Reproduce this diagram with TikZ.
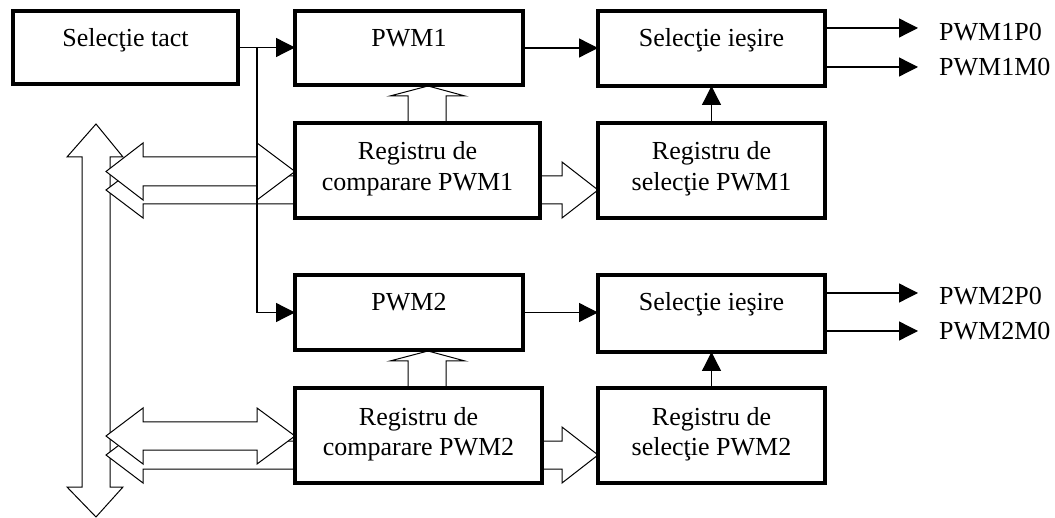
\documentclass[tikz,border=0pt]{standalone}
\usepackage{fontspec}
\setmainfont{Liberation Serif}
\usetikzlibrary{arrows.meta}
\begin{document}
\begin{tikzpicture}[x=1pt,y=-1pt,
  box/.style={draw, line width=3.4pt, fill=white, inner sep=0pt, outer sep=0pt, anchor=north west},
  txt/.style={font=\fontsize{26pt}{31pt}\selectfont, align=center, inner sep=0pt, anchor=base},
  lbl/.style={font=\fontsize{26pt}{31pt}\selectfont, inner sep=0pt, anchor=base west},
  conn/.style={line width=1.3pt, -{Triangle[length=19pt,width=19pt]}},
  block/.style={draw, line width=1pt, fill=white, line join=miter},
]
\useasboundingbox (0,0) rectangle (1055,518);

% data bus (vertical double block arrow)
\draw[block] (96,124) -- (123,157) -- (110,157) -- (110,487) -- (123,487) -- (96,517)
  -- (67,487) -- (82,487) -- (82,157) -- (67,157) -- cycle;

% channel 1: read-back path (behind) and bidirectional write path
\draw[block] (106,190) -- (143,162) -- (143,176) -- (295,176) -- (295,204) -- (143,204) -- (143,218) -- cycle;
\draw[block] (106,171.5) -- (143,143) -- (143,157) -- (257,157) -- (257,143) -- (295,171.5)
  -- (257,200) -- (257,186) -- (143,186) -- (143,200) -- cycle;
% compare register -> selection register
\draw[block] (540,176) -- (562,176) -- (562,162) -- (598,190) -- (562,218) -- (562,204) -- (540,204) -- cycle;
% compare register -> PWM1
\draw[block] (408,123) -- (408,96) -- (390,96) -- (428,86) -- (465,96) -- (446,96) -- (446,123) -- cycle;

% channel 2
\draw[block] (106,455) -- (143,427) -- (143,441) -- (295,441) -- (295,469) -- (143,469) -- (143,483) -- cycle;
\draw[block] (106,436) -- (143,408) -- (143,422) -- (257,422) -- (257,408) -- (295,436)
  -- (257,464) -- (257,450) -- (143,450) -- (143,464) -- cycle;
\draw[block] (542,441) -- (562,441) -- (562,427) -- (598,455) -- (562,483) -- (562,469) -- (542,469) -- cycle;
\draw[block] (408,388) -- (408,361) -- (390,361) -- (428,351) -- (465,361) -- (446,361) -- (446,388) -- cycle;

% blocks
\node[box, minimum width=225pt, minimum height=73pt] (tact)  at (13,11)  {};
\node[box, minimum width=228pt, minimum height=74pt] (pwm1)  at (295,11) {};
\node[box, minimum width=227pt, minimum height=75pt] (sel1)  at (598,11) {};
\node[box, minimum width=245pt, minimum height=95pt] (cmp1)  at (295,123) {};
\node[box, minimum width=227pt, minimum height=95pt] (rsel1) at (598,123) {};
\node[box, minimum width=228pt, minimum height=75pt] (pwm2)  at (295,275) {};
\node[box, minimum width=227pt, minimum height=77pt] (sel2)  at (598,275) {};
\node[box, minimum width=247pt, minimum height=95pt] (cmp2)  at (295,388) {};
\node[box, minimum width=227pt, minimum height=95pt] (rsel2) at (598,388) {};

% block captions (base of a two-line caption is its second line)
\node[txt] (tactT)  at ([yshift=-36pt]tact.north)  {Selecţie tact};
\node[txt] (pwm1T)  at ([yshift=-36pt]pwm1.north)  {PWM1};
\node[txt] (sel1T)  at ([yshift=-36pt]sel1.north)  {Selecţie ieşire};
\node[txt] (cmp1T)  at ([yshift=-68pt]cmp1.north)  {Registru de\\comparare PWM1};
\node[txt] (rsel1T) at ([yshift=-68pt]rsel1.north) {Registru de\\selecţie PWM1};
\node[txt] (pwm2T)  at ([yshift=-36pt]pwm2.north)  {PWM2};
\node[txt] (sel2T)  at ([yshift=-36pt]sel2.north)  {Selecţie ieşire};
\node[txt] (cmp2T)  at ([yshift=-68pt]cmp2.north)  {Registru de\\comparare PWM2};
\node[txt] (rsel2T) at ([yshift=-68pt]rsel2.north) {Registru de\\selecţie PWM2};

% clock distribution
\coordinate (split) at (257,47.5);
\draw[conn] (tact.east) -- (tact.east -| pwm1.west);
\draw[conn] (split) |- (pwm2.west);

% PWM -> output selection
\draw[conn] (pwm1.east) -- (pwm1.east -| sel1.west);
\draw[conn] (pwm2.east) -- (pwm2.east -| sel2.west);
\draw[conn] (rsel1.north) -- (sel1.south);
\draw[conn] (rsel2.north) -- (sel2.south);

% outputs
\coordinate (o1a) at (918,28);
\coordinate (o1b) at (918,67);
\coordinate (o2a) at (918,293);
\coordinate (o2b) at (918,331);
\draw[conn] (sel1.east |- o1a) -- (o1a);
\draw[conn] (sel1.east |- o1b) -- (o1b);
\draw[conn] (sel2.east |- o2a) -- (o2a);
\draw[conn] (sel2.east |- o2b) -- (o2b);
\node[lbl] (o1p) at (939,41)  {PWM1P0};
\node[lbl] (o1m) at (939,76)  {PWM1M0};
\node[lbl] (o2p) at (939,305) {PWM2P0};
\node[lbl] (o2m) at (939,340) {PWM2M0};
\end{tikzpicture}
\end{document}
